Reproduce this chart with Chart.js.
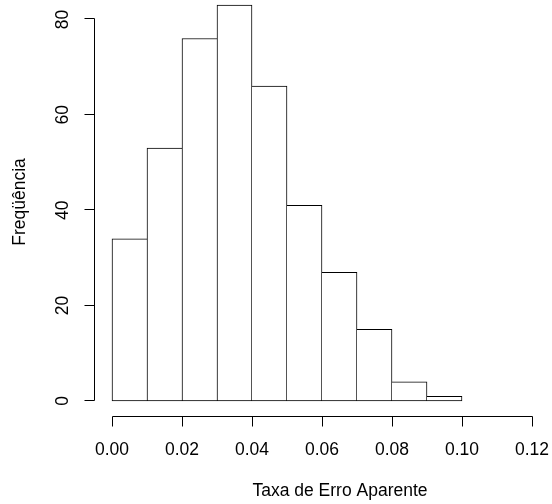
<!DOCTYPE html>
<html>
<head>
<meta charset="utf-8">
<script src="https://cdn.jsdelivr.net/npm/chart.js@4"></script>
<style>
  html, body { margin: 0; padding: 0; background: #ffffff; }
  #wrap { width: 552px; height: 504px; }
</style>
</head>
<body>
<div id="wrap"><canvas id="histChart" width="552" height="504"></canvas></div>
<script>
// bin centres (width 0.01) and counts
const binCenters = [0.005, 0.015, 0.025, 0.035, 0.045, 0.055, 0.065, 0.075, 0.085, 0.095];
const counts = [34, 53, 76, 83, 66, 41, 27, 15, 4, 1];

const xTicks = [0, 0.02, 0.04, 0.06, 0.08, 0.1, 0.12];
const xTickLabels = ["0.00", "0.02", "0.04", "0.06", "0.08", "0.10", "0.12"];
const yTicks = [0, 20, 40, 60, 80];
const yTickLabels = ["0", "20", "40", "60", "80"];

const xTitle = "Taxa de Erro Aparente";
const yTitle = "Freqüência";

const font = "17.5px 'Liberation Sans', Arial, sans-serif";

// shared edges between neighbouring bars are drawn once, by the taller bar
function edgeWidths(ctx) {
  const i = ctx.dataIndex;
  const h = counts[i];
  const left = i === 0 || h >= counts[i - 1] ? 1 : 0;
  const right = i === counts.length - 1 || h > counts[i + 1] ? 1 : 0;
  return { top: 1, bottom: 1, left: left, right: right };
}

// R style axes: offset from the bars, drawn from the scales
const rAxes = {
  id: "rAxes",
  afterDraw(chart) {
    const ctx = chart.ctx;
    const xs = chart.scales.x;
    const ys = chart.scales.y;
    const area = chart.chartArea;

    ctx.save();
    ctx.strokeStyle = "#000000";
    ctx.lineWidth = 1;
    ctx.fillStyle = "#000000";
    ctx.font = font;

    // x axis
    const axisY = Math.round(area.bottom) - 0.5;
    const x0 = Math.round(xs.getPixelForValue(xTicks[0])) + 0.5;
    const x1 = Math.round(xs.getPixelForValue(xTicks[xTicks.length - 1])) + 0.5;
    ctx.beginPath();
    ctx.moveTo(x0, axisY);
    ctx.lineTo(x1, axisY);
    xTicks.forEach((t) => {
      const px = Math.round(xs.getPixelForValue(t)) + 0.5;
      ctx.moveTo(px, axisY);
      ctx.lineTo(px, axisY + 10);
    });
    ctx.stroke();

    ctx.textAlign = "center";
    ctx.textBaseline = "middle";
    xTicks.forEach((t, i) => {
      ctx.fillText(xTickLabels[i], xs.getPixelForValue(t), 450);
    });
    ctx.fillText(xTitle, 340, 491);

    // y axis
    const axisX = Math.round(area.left) + 0.5;
    const yBottom = Math.round(ys.getPixelForValue(yTicks[0])) - 0.5;
    const yTop = Math.round(ys.getPixelForValue(yTicks[yTicks.length - 1])) - 0.5;
    ctx.beginPath();
    ctx.moveTo(axisX, yBottom);
    ctx.lineTo(axisX, yTop);
    yTicks.forEach((t) => {
      const py = Math.round(ys.getPixelForValue(t)) - 0.5;
      ctx.moveTo(axisX, py);
      ctx.lineTo(axisX - 10, py);
    });
    ctx.stroke();

    yTicks.forEach((t, i) => {
      ctx.save();
      ctx.translate(63, ys.getPixelForValue(t));
      ctx.rotate(-Math.PI / 2);
      ctx.fillText(yTickLabels[i], 0, 0);
      ctx.restore();
    });

    ctx.save();
    ctx.translate(20, 202);
    ctx.rotate(-Math.PI / 2);
    ctx.fillText(yTitle, 0, 0);
    ctx.restore();

    ctx.restore();
  }
};

new Chart(document.getElementById("histChart"), {
  type: "bar",
  data: {
    datasets: [
      {
        label: yTitle,
        data: binCenters.map((c, i) => ({ x: c, y: counts[i] })),
        backgroundColor: "#ffffff",
        borderColor: "#000000",
        borderSkipped: false,
        borderWidth: edgeWidths,
        barPercentage: 1,
        categoryPercentage: 1
      }
    ]
  },
  options: {
    responsive: false,
    animation: false,
    events: [],
    layout: {
      padding: { left: 94, top: 0, right: 3, bottom: 87 }
    },
    scales: {
      x: {
        type: "linear",
        display: false,
        offset: false,
        min: -0.0051429,
        max: 0.1248571
      },
      y: {
        display: false,
        min: -3.354,
        max: 84.07
      }
    },
    plugins: {
      legend: { display: false },
      tooltip: { enabled: false }
    }
  },
  plugins: [rAxes]
});
</script>
</body>
</html>
